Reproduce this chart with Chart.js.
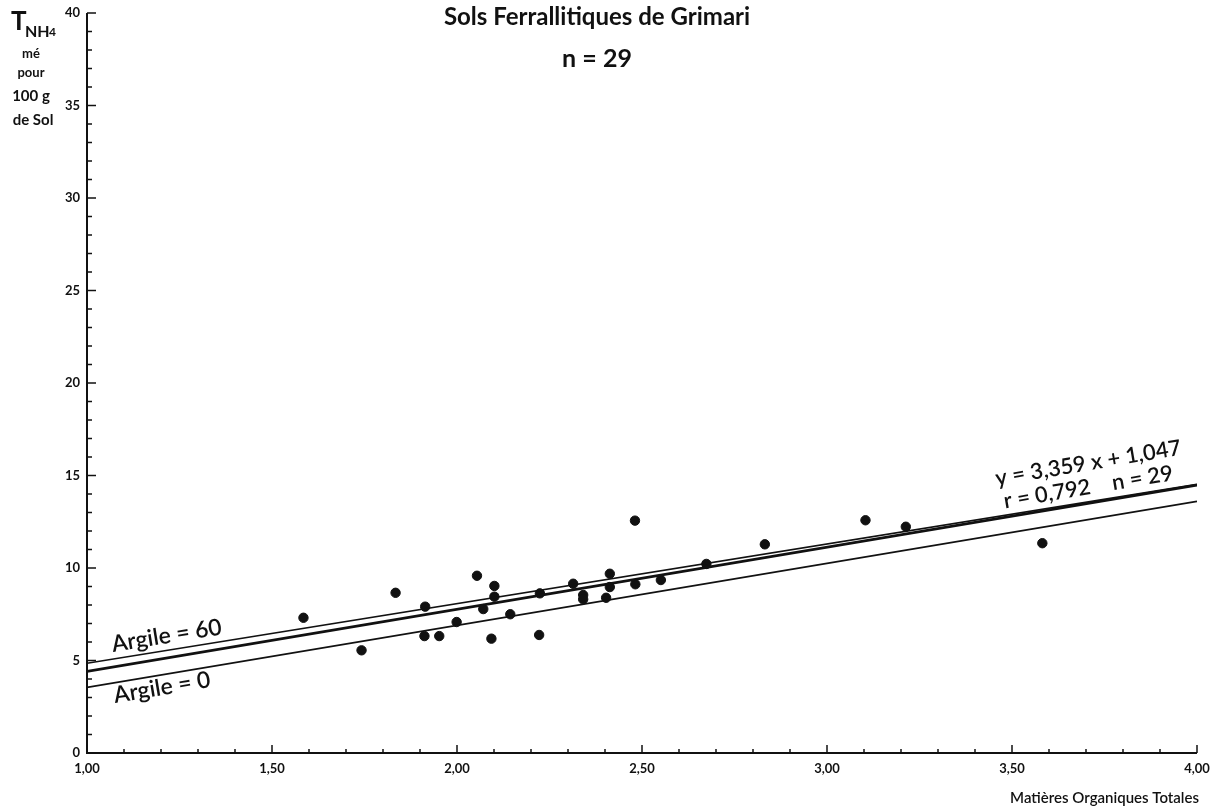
<!DOCTYPE html>
<html>
<head>
<meta charset="utf-8">
<script src="https://cdn.jsdelivr.net/npm/chart.js"></script>
<style>
    html, body { margin: 0; padding: 0; background: #fff; }
    #wrap { width: 1210px; height: 809px; position: relative; }
</style>
</head>
<body>
<div id="wrap"><canvas id="grimari-chart" width="1210" height="809"></canvas></div>
<script>
// Matières organiques totales (x) / T NH4 (y), 29 échantillons
const moValues = [1.585, 1.834, 1.742, 1.914, 1.912, 1.952, 1.999, 2.054, 2.101, 2.101,
    2.071, 2.093, 2.144, 2.222, 2.224, 2.314, 2.341, 2.341, 2.413, 2.413,
    2.403, 2.481, 2.482, 2.551, 2.674, 2.832, 3.104, 3.213, 3.582];
const tValues = [7.31, 8.66, 5.55, 7.91, 6.32, 6.32, 7.08, 9.58, 9.03, 8.45,
    7.78, 6.18, 7.50, 6.38, 8.63, 9.15, 8.54, 8.31, 9.69, 8.97,
    8.39, 12.56, 9.12, 9.35, 10.22, 11.28, 12.58, 12.23, 11.34];

// droites : extrémités en x, valeurs en y
const lineX = [1, 4];
const regressionY = [3.359 * 1 + 1.047, 3.359 * 4 + 1.047];
const argile60Y = [4.85, 14.52];
const argile0Y = [3.55, 13.60];

const xTickValues = [1.0, 1.5, 2.0, 2.5, 3.0, 3.5, 4.0];
const yTickValues = [0, 5, 10, 15, 20, 25, 30, 35, 40];

const FONT = "Lato, 'Open Sans', sans-serif";

function toPoints(xs, ys) {
    return xs.map((x, i) => ({ x: x, y: ys[i] }));
}

function fmtX(v) {
    return v.toFixed(2).replace('.', ',');
}

// petits traits vers l'intérieur + axes
const axesPlugin = {
    id: 'axesPlugin',
    afterDraw(chart) {
        const ctx = chart.ctx;
        const xs = chart.scales.x;
        const ys = chart.scales.y;
        const left = xs.getPixelForValue(1);
        const right = xs.getPixelForValue(4);
        const bottom = ys.getPixelForValue(0);
        const top = ys.getPixelForValue(40);

        ctx.save();
        ctx.strokeStyle = '#111';
        ctx.lineWidth = 2;
        ctx.beginPath();
        ctx.moveTo(left, top);
        ctx.lineTo(left, bottom);
        ctx.lineTo(right, bottom);
        ctx.stroke();

        ctx.lineWidth = 1.5;
        for (let i = 0; i <= 40; i++) {
            const py = ys.getPixelForValue(i);
            const len = i % 5 === 0 ? 9 : 5;
            ctx.beginPath();
            ctx.moveTo(left, py);
            ctx.lineTo(left + len, py);
            ctx.stroke();
        }
        for (let i = 0; i <= 30; i++) {
            const v = 1 + i / 10;
            const px = xs.getPixelForValue(v);
            const len = i % 5 === 0 ? 8 : 4;
            ctx.beginPath();
            ctx.moveTo(px, bottom);
            ctx.lineTo(px, bottom - len);
            ctx.stroke();
        }
        ctx.restore();
    }
};

function angleOf(chart, ys) {
    const xs = chart.scales.x;
    const yScale = chart.scales.y;
    const dx = xs.getPixelForValue(lineX[1]) - xs.getPixelForValue(lineX[0]);
    const dy = yScale.getPixelForValue(ys[1]) - yScale.getPixelForValue(ys[0]);
    return Math.atan2(dy, dx);
}

function rotatedText(chart, text, xv, yv, angle, font) {
    const ctx = chart.ctx;
    const px = chart.scales.x.getPixelForValue(xv);
    const py = chart.scales.y.getPixelForValue(yv);
    ctx.save();
    ctx.translate(px, py);
    ctx.rotate(angle);
    ctx.font = font;
    ctx.fillStyle = '#111';
    ctx.textAlign = 'left';
    ctx.textBaseline = 'alphabetic';
    ctx.fillText(text, 0, 0);
    ctx.restore();
}

const labelsPlugin = {
    id: 'labelsPlugin',
    afterDraw(chart) {
        const ctx = chart.ctx;
        const a60 = angleOf(chart, argile60Y);
        const a0 = angleOf(chart, argile0Y);
        const aReg = angleOf(chart, regressionY);

        rotatedText(chart, 'Argile = 60', 1.07, 5.46, a60, '600 23px ' + FONT);
        rotatedText(chart, 'Argile = 0', 1.076, 2.70, a0, '600 23px ' + FONT);
        rotatedText(chart, 'y = 3,359 x + 1,047', 3.459, 14.45, aReg, '600 22px ' + FONT);
        rotatedText(chart, 'r = 0,792    n = 29', 3.481, 13.22, aReg, '600 22px ' + FONT);

        ctx.save();
        ctx.fillStyle = '#111';
        ctx.textBaseline = 'alphabetic';

        // titre
        ctx.textAlign = 'center';
        ctx.font = 'bold 24px ' + FONT;
        ctx.fillText('Sols Ferrallitiques de Grimari', 597, 25);
        ctx.font = 'bold 25px ' + FONT;
        ctx.fillText('n = 29', 597, 67);

        // titre de l'axe y
        ctx.textAlign = 'left';
        ctx.font = 'bold 26px ' + FONT;
        ctx.fillText('T', 11, 30);
        ctx.font = 'bold 16px ' + FONT;
        ctx.fillText('NH', 25, 37);
        ctx.font = 'bold 12px ' + FONT;
        ctx.fillText('4', 49, 36);

        ctx.textAlign = 'center';
        ctx.font = 'bold 13px ' + FONT;
        ctx.fillText('mé', 31, 58);
        ctx.fillText('pour', 31, 77);
        ctx.font = 'bold 15px ' + FONT;
        ctx.fillText('100 g', 31, 101);
        ctx.fillText('de Sol', 33, 125);

        // titre de l'axe x
        ctx.textAlign = 'right';
        ctx.font = '600 15px ' + FONT;
        ctx.fillText('Matières Organiques Totales', 1199, 803);
        ctx.restore();
    }
};

const lineStyle = {
    type: 'line',
    borderColor: '#111',
    pointRadius: 0,
    fill: false,
    tension: 0
};

new Chart(document.getElementById('grimari-chart'), {
    type: 'scatter',
    data: {
        datasets: [
            Object.assign({}, lineStyle, {
                label: 'Argile = 60',
                data: toPoints(lineX, argile60Y),
                borderWidth: 1.7
            }),
            Object.assign({}, lineStyle, {
                label: 'Régression',
                data: toPoints(lineX, regressionY),
                borderWidth: 2.8
            }),
            Object.assign({}, lineStyle, {
                label: 'Argile = 0',
                data: toPoints(lineX, argile0Y),
                borderWidth: 1.7
            }),
            {
                label: 'Échantillons',
                data: toPoints(moValues, tValues),
                backgroundColor: '#111',
                borderColor: '#111',
                pointRadius: 4.7,
                pointHoverRadius: 4.7
            }
        ]
    },
    options: {
        responsive: false,
        animation: false,
        devicePixelRatio: 1,
        layout: { padding: { left: 0, right: 13, top: 13, bottom: 0 } },
        plugins: {
            legend: { display: false },
            tooltip: { enabled: false }
        },
        scales: {
            x: {
                type: 'linear',
                min: 1,
                max: 4,
                afterFit(scale) {
                    scale.height = 56;
                    scale.paddingLeft = 0;
                    scale.paddingRight = 0;
                },
                afterBuildTicks(scale) {
                    scale.ticks = xTickValues.map(v => ({ value: v }));
                },
                grid: { display: false, drawTicks: false },
                border: { display: false },
                ticks: {
                    padding: 8,
                    autoSkip: false,
                    maxRotation: 0,
                    color: '#111',
                    font: { family: FONT, size: 13, weight: 'bold' },
                    callback: v => fmtX(v)
                }
            },
            y: {
                type: 'linear',
                min: 0,
                max: 40,
                afterFit(scale) {
                    scale.width = 87;
                    scale.paddingTop = 0;
                    scale.paddingBottom = 0;
                },
                afterBuildTicks(scale) {
                    scale.ticks = yTickValues.map(v => ({ value: v }));
                },
                grid: { display: false, drawTicks: false },
                border: { display: false },
                ticks: {
                    padding: 7,
                    autoSkip: false,
                    color: '#111',
                    font: { family: FONT, size: 13, weight: 'bold' },
                    callback: v => String(v)
                }
            }
        }
    },
    plugins: [axesPlugin, labelsPlugin]
});
</script>
</body>
</html>
